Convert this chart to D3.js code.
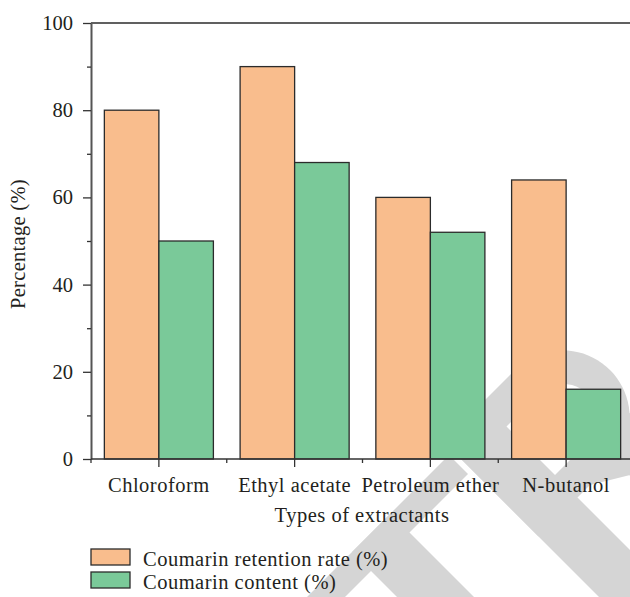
<!DOCTYPE html>
<html>
<head>
<meta charset="utf-8">
<script src="https://cdn.jsdelivr.net/npm/d3@7"></script>
<style>
  html, body { margin: 0; padding: 0; background: #fff; }
  svg { display: block; }
  text { font-family: "Liberation Serif", "Times New Roman", serif; fill: #231f20; }
</style>
</head>
<body>
<div id="chart"></div>
<script>
// ---- data ----
const categories = ["Chloroform", "Ethyl acetate", "Petroleum ether", "N-butanol"];
const retentionRate = [80, 90, 60, 64];
const coumarinContent = [50, 68, 52, 16];
const seriesNames = ["Coumarin retention rate (%)", "Coumarin content (%)"];
const seriesColors = ["#F9BD8D", "#7AC999"];
const yMajorTicks = [0, 20, 40, 60, 80, 100];
const yMinorTicks = [10, 30, 50, 70, 90];
const xTitle = "Types of extractants";
const yTitle = "Percentage (%)";

// ---- layout ----
const W = 630, H = 597;
const mLeft = 91, mRight = 634, mTop = 23, mBottom = 459;
const FS = 20.5, LS = 0.5;

const svg = d3.select("#chart").append("svg").attr("width", W).attr("height", H);

// ---- background watermark (decoration, light grey letter strokes at 45 deg) ----
// shapes given in rotated coordinates u = x - y, v = x + y
function uvToXY([u, v]) { return [(u + v) / 2, (v - u) / 2]; }
function arcUV(cu, cv, r, a0, a1, n) {
  const pts = [];
  for (let i = 0; i <= n; i++) {
    const a = a0 + (a1 - a0) * i / n;
    pts.push([cu + r * Math.cos(a), cv + r * Math.sin(a)]);
  }
  return pts;
}
const wmGrey = [
  [[-400, 904], [-6, 904], [-6, 942], [-400, 942]],            // T crossbar
  [[-200, 904], [-123, 904], [-123, 1500], [-200, 1500]],      // T stem
  [[2, 885], [80, 885], [80, 1500], [2, 1500]],                // R stem
  [[2, 885], [145, 885], ...arcUV(145, 980, 95, -Math.PI / 2, Math.PI / 2, 40), [2, 1075]], // R bowl
  [[80, 1060], [155, 1105], [330, 1500], [460, 1500], [215, 1040], [80, 1040]]              // R leg
];
const wmWhite = [
  [[80, 933], [145, 933], ...arcUV(145, 981.5, 48.5, -Math.PI / 2, Math.PI / 2, 30), [80, 1030]] // R counter
];
const wm = svg.append("g").attr("class", "watermark");
wm.selectAll("path.g").data(wmGrey).join("path").attr("class", "g")
  .attr("d", s => d3.line()(s.map(uvToXY)) + "Z").attr("fill", "#d5d5d5");
wm.selectAll("path.w").data(wmWhite).join("path").attr("class", "w")
  .attr("d", s => d3.line()(s.map(uvToXY)) + "Z").attr("fill", "#fff");

// ---- scales ----
const x = d3.scaleBand().domain(categories).range([mLeft, mRight]).paddingInner(0).paddingOuter(0);
const xSub = d3.scaleBand().domain([0, 1]).range([0, x.bandwidth()]).paddingOuter(0.245).paddingInner(0);
const y = d3.scaleLinear().domain([0, 100]).range([mBottom, mTop]);

const rows = categories.map((c, i) => ({ cat: c, vals: [retentionRate[i], coumarinContent[i]] }));

// ---- bars ----
const groups = svg.append("g").selectAll("g").data(rows).join("g")
  .attr("transform", d => `translate(${x(d.cat)},0)`);
groups.selectAll("rect").data(d => d.vals.map((v, k) => ({ v, k }))).join("rect")
  .attr("x", d => xSub(d.k))
  .attr("y", d => y(d.v))
  .attr("width", xSub.bandwidth())
  .attr("height", d => y(0) - y(d.v))
  .attr("fill", d => seriesColors[d.k])
  .attr("stroke", "#2b2b2b")
  .attr("stroke-width", 1.3);

// ---- frame top line ----
svg.append("line").attr("x1", mLeft).attr("x2", W).attr("y1", mTop).attr("y2", mTop)
  .attr("stroke", "#2b2b2b").attr("stroke-width", 1.3);

// ---- y axis ----
const yAxis = svg.append("g").attr("transform", `translate(${mLeft},0)`)
  .call(d3.axisLeft(y).tickValues(yMajorTicks).tickSize(8).tickPadding(10).tickSizeOuter(0));
yAxis.select(".domain").attr("stroke", "#555").attr("stroke-width", 2);
yAxis.selectAll(".tick line").attr("stroke", "#333").attr("stroke-width", 1.3);
yAxis.selectAll(".tick text").attr("font-size", FS).attr("font-family", "Liberation Serif").attr("fill", "#231f20");
const yMinor = svg.append("g").attr("transform", `translate(${mLeft},0)`)
  .call(d3.axisLeft(y).tickValues(yMinorTicks).tickSize(4).tickFormat(""));
yMinor.select(".domain").remove();
yMinor.selectAll(".tick line").attr("stroke", "#333").attr("stroke-width", 1.3);

// ---- x axis ----
const xAxis = svg.append("g").attr("transform", `translate(0,${mBottom})`)
  .call(d3.axisBottom(x).tickSize(8).tickPadding(10).tickSizeOuter(0));
xAxis.select(".domain").attr("d", `M${mLeft},0H${W}`).attr("stroke", "#333").attr("stroke-width", 1.6);
xAxis.selectAll(".tick line").attr("stroke", "#333").attr("stroke-width", 1.3);
xAxis.selectAll(".tick text").attr("font-size", FS).attr("letter-spacing", LS)
  .attr("font-family", "Liberation Serif").attr("fill", "#231f20");
// minor x ticks at band boundaries
const boundaries = categories.map(c => x(c));
svg.append("g").selectAll("line").data(boundaries).join("line")
  .attr("x1", d => d).attr("x2", d => d)
  .attr("y1", mBottom).attr("y2", mBottom + 4)
  .attr("stroke", "#333").attr("stroke-width", 1.3);

// ---- titles ----
svg.append("text").attr("x", 362).attr("y", 522)
  .attr("text-anchor", "middle").attr("font-size", FS).attr("letter-spacing", LS).text(xTitle);
svg.append("text").attr("transform", `translate(25,${(mTop + mBottom) / 2 + 3}) rotate(-90)`)
  .attr("text-anchor", "middle").attr("font-size", FS).attr("letter-spacing", 0.3).text(yTitle);

// ---- legend ----
const legend = svg.append("g").attr("transform", "translate(91,549)");
const li = legend.selectAll("g").data(seriesNames).join("g")
  .attr("transform", (d, i) => `translate(0,${i * 23})`);
li.append("rect").attr("width", 39).attr("height", 16)
  .attr("fill", (d, i) => seriesColors[i]).attr("stroke", "#2b2b2b").attr("stroke-width", 1.3);
li.append("text").attr("x", 52).attr("y", 16.5).attr("font-size", FS).attr("letter-spacing", LS).text(d => d);
</script>
</body>
</html>
